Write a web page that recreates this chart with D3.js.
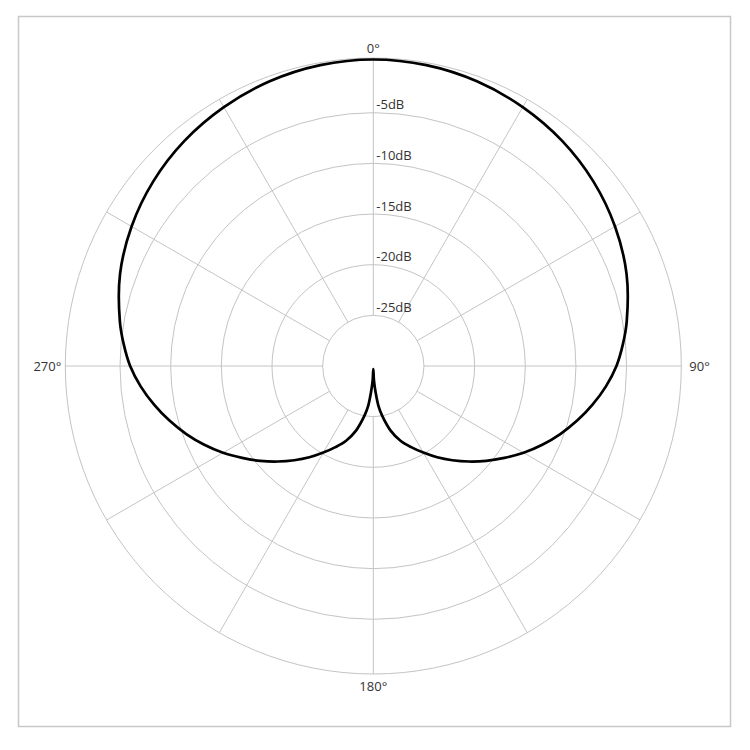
<!DOCTYPE html>
<html lang="en">
	<head>
		<meta charset="utf-8">
		<title>Polar pattern - cardioid</title>
		<script src="https://d3js.org/d3.v7.min.js"></script>
		<style type="text/css">
body {
    margin: 0;
    background: #fff;
}
text {
    font-family: "Open Sans", "Noto Sans", sans-serif;
    font-size: 13px;
    fill: #333;
}
		</style>
	</head>

	<body>
		<script type="text/javascript">

			// angles (deg, clockwise from 0 at top) and level (dB)
			var angles = [0, 10, 20, 30, 40, 50, 60, 70, 80, 85, 90, 95, 100, 105, 110, 115, 120, 125, 130, 135, 140, 145, 150, 155, 160, 165, 170, 172.5, 175, 177.5, 180,
			              182.5, 185, 187.5, 190, 195, 200, 205, 210, 215, 220, 225, 230, 235, 240, 245, 250, 255, 260, 265, 270, 275, 280, 290, 300, 310, 320, 330, 340, 350];
			var levels = [0.25, 0.15, -0.1, -0.5, -1.0, -1.65, -2.45, -3.4, -4.6, -5.27, -6.0, -6.95, -8.03, -9.17, -10.36, -11.6, -12.87, -14.2, -15.44, -16.67, -17.86, -19.0, -20.13, -21.16, -22.15, -23.4, -25.05, -25.95, -27.4, -28.6, -29.7,
			              -28.6, -27.4, -25.95, -25.05, -23.4, -22.15, -21.16, -20.13, -19.0, -17.86, -16.67, -15.44, -14.2, -12.87, -11.6, -10.36, -9.17, -8.03, -6.95, -6.0, -5.27, -4.6, -3.4, -2.45, -1.65, -1.0, -0.5, -0.1, 0.15];

			// grid
			var ringLevels = [-25, -20, -15, -10, -5];
			var ringLabels = ["-25dB", "-20dB", "-15dB", "-10dB", "-5dB"];
			var spokeAngles = [0, 30, 60, 90, 120, 150, 180, 210, 240, 270, 300, 330];
			var axisAngles = [0, 90, 180, 270];
			var axisLabels = ["0°", "90°", "180°", "270°"];

			//Width and height
			var w = 750;
			var h = 750;
			var cx = 373.3;
			var cy = 366;

			var svg = d3.select("body")
						.append("svg")
						.attr("width", w)
						.attr("height", h);

			// frame
			svg.append("rect")
				.attr("x", 18.5)
				.attr("y", 16.5)
				.attr("width", 712)
				.attr("height", 710)
				.attr("fill", "none")
				.attr("stroke", "#c8c8c8")
				.attr("stroke-width", 1.5);

			// radial scale, outer circle sits a touch above 0dB
			var r = d3.scaleLinear()
				.domain([-30, 0.4])
				.range([0, 308]);

			var g = svg.append("g")
				.attr("transform", "translate(" + cx + "," + cy + ")");

			// spokes from the innermost ring to the outer circle
			g.selectAll(".spoke")
				.data(spokeAngles)
				.enter()
				.append("line")
				.attr("class", "spoke")
				.attr("x1", function(d) { return r(-25) * Math.sin(d * Math.PI / 180); })
				.attr("y1", function(d) { return -r(-25) * Math.cos(d * Math.PI / 180); })
				.attr("x2", function(d) { return r.range()[1] * Math.sin(d * Math.PI / 180); })
				.attr("y2", function(d) { return -r.range()[1] * Math.cos(d * Math.PI / 180); })
				.attr("stroke", "#c4c4c4")
				.attr("stroke-width", 1);

			// rings
			g.selectAll(".ring")
				.data(ringLevels.concat([r.domain()[1]]))
				.enter()
				.append("circle")
				.attr("class", "ring")
				.attr("r", function(d) { return r(d); })
				.attr("fill", "none")
				.attr("stroke", "#c4c4c4")
				.attr("stroke-width", 1);

			// ring labels next to the 0° spoke
			g.selectAll(".ring_label")
				.data(ringLevels)
				.enter()
				.append("text")
				.attr("class", "ring_label")
				.attr("x", 3)
				.attr("y", function(d) { return -r(d) - 3.5; })
				.text(function(d, i) { return ringLabels[i]; });

			// pattern
			var line = d3.lineRadial()
				.angle(function(d) { return d[0] * Math.PI / 180; })
				.radius(function(d) { return r(d[1]); })
				.curve(d3.curveCatmullRomClosed.alpha(0.5));

			g.append("path")
				.datum(angles.map(function(a, i) { return [a, levels[i]]; }))
				.attr("d", line)
				.attr("fill", "none")
				.attr("stroke", "#000")
				.attr("stroke-width", 2.7);

			// angle labels outside the outer circle
			var R = r.range()[1];
			g.selectAll(".angle_label")
				.data(axisAngles)
				.enter()
				.append("text")
				.attr("class", "angle_label")
				.attr("x", function(d) {
					if (d == 90) return R + 8;
					if (d == 270) return -R - 4;
					return 0;
				})
				.attr("y", function(d) {
					if (d == 0) return -R - 5;
					if (d == 180) return R + 17;
					return 0;
				})
				.attr("dy", function(d) { return (d == 90 || d == 270) ? ".35em" : 0; })
				.style("text-anchor", function(d) {
					if (d == 90) return "start";
					if (d == 270) return "end";
					return "middle";
				})
				.text(function(d, i) { return axisLabels[i]; });

		</script>
	</body>
</html>
